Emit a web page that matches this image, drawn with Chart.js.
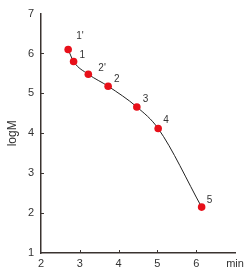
<!DOCTYPE html>
<html>
<head>
<meta charset="utf-8">
<script src="https://cdn.jsdelivr.net/npm/chart.js@4/dist/chart.umd.min.js"></script>
<style>
  html, body { margin: 0; padding: 0; background: #fff; }
  #wrap { width: 250px; height: 275px; position: relative; }
</style>
</head>
<body>
<div id="wrap"><canvas id="chart"></canvas></div>
<script>
// Elution data: retention time (min) vs log molecular weight
const pointLabels = ["1'", '1', "2'", '2', '3', '4', '5'];
const timeValues = [2.70, 2.84, 3.22, 3.73, 4.47, 5.02, 6.14];
const logMValues = [6.10, 5.80, 5.48, 5.18, 4.66, 4.12, 2.15];
const xTicks = [2, 3, 4, 5, 6, 7];
const yTicks = [1, 2, 3, 4, 5, 6, 7];

const axisColor = '#3a3330';
const textColor = '#333';

// label nudges (px) so they sit up-right of each dot
const labelOffsets = [[10, -13], [8, -6], [12, -6], [8, -7], [8, -8], [7, -8], [7, -7]];

// inward tick marks + point labels
const annotatePlugin = {
  id: 'annotate',
  afterDraw(chart) {
    const c = chart.ctx;
    const xs = chart.scales.x;
    const ys = chart.scales.y;
    const area = chart.chartArea;
    c.save();
    c.strokeStyle = axisColor;
    c.lineWidth = 1;
    c.beginPath();
    xTicks.forEach(v => {
      if (v === 2 || v === 7) return;
      const px = Math.round(xs.getPixelForValue(v)) + 0.5;
      c.moveTo(px, area.bottom);
      c.lineTo(px, area.bottom - 3);
    });
    yTicks.forEach(v => {
      if (v === 1 || v === 7) return;
      const py = Math.round(ys.getPixelForValue(v)) + 0.5;
      c.moveTo(area.left, py);
      c.lineTo(area.left + 3, py);
    });
    c.stroke();

    c.fillStyle = textColor;
    c.font = '10px "Liberation Sans", Arial, sans-serif';
    c.textAlign = 'left';
    c.textBaseline = 'middle';
    const meta = chart.getDatasetMeta(0);
    meta.data.forEach((pt, i) => {
      const off = labelOffsets[i];
      c.fillText(pointLabels[i], pt.x + off[0] - 2, pt.y + off[1]);
    });
    c.restore();
  }
};

const tickFont = { family: '"Liberation Sans", Arial, sans-serif', size: 11 };

new Chart(document.getElementById('chart'), {
  type: 'line',
  data: {
    datasets: [{
      data: timeValues.map((t, i) => ({ x: t, y: logMValues[i] })),
      borderColor: '#222',
      borderWidth: 1,
      tension: 0.4,
      cubicInterpolationMode: 'monotone',
      pointBackgroundColor: '#e8101a',
      pointBorderColor: '#e8101a',
      pointBorderWidth: 0,
      pointRadius: 3.8,
      fill: false
    }]
  },
  options: {
    responsive: true,
    maintainAspectRatio: false,
    animation: false,
    layout: { padding: { left: 0, right: 15, top: 12, bottom: 0 } },
    plugins: { legend: { display: false }, tooltip: { enabled: false } },
    scales: {
      x: {
        type: 'linear',
        min: 2,
        max: 7,
        afterBuildTicks: s => { s.ticks = xTicks.map(v => ({ value: v })); },
        afterFit: s => { s.height = 22; },
        grid: { display: false, drawTicks: false },
        border: { display: true, color: axisColor, width: 1.5 },
        ticks: {
          color: textColor,
          font: tickFont,
          padding: 4,
          maxRotation: 0,
          callback: v => (v === 7 ? 'min' : v)
        }
      },
      y: {
        type: 'linear',
        min: 1,
        max: 7,
        afterBuildTicks: s => { s.ticks = yTicks.map(v => ({ value: v })); },
        afterFit: s => { s.width = 41; },
        grid: { display: false, drawTicks: false },
        border: { display: true, color: axisColor, width: 1.5 },
        title: {
          display: true,
          text: 'logM',
          color: textColor,
          font: { family: '"Liberation Sans", Arial, sans-serif', size: 12 },
          padding: { top: 5, bottom: 0 }
        },
        ticks: {
          color: textColor,
          font: tickFont,
          padding: 7
        }
      }
    }
  },
  plugins: [annotatePlugin]
});
</script>
</body>
</html>
